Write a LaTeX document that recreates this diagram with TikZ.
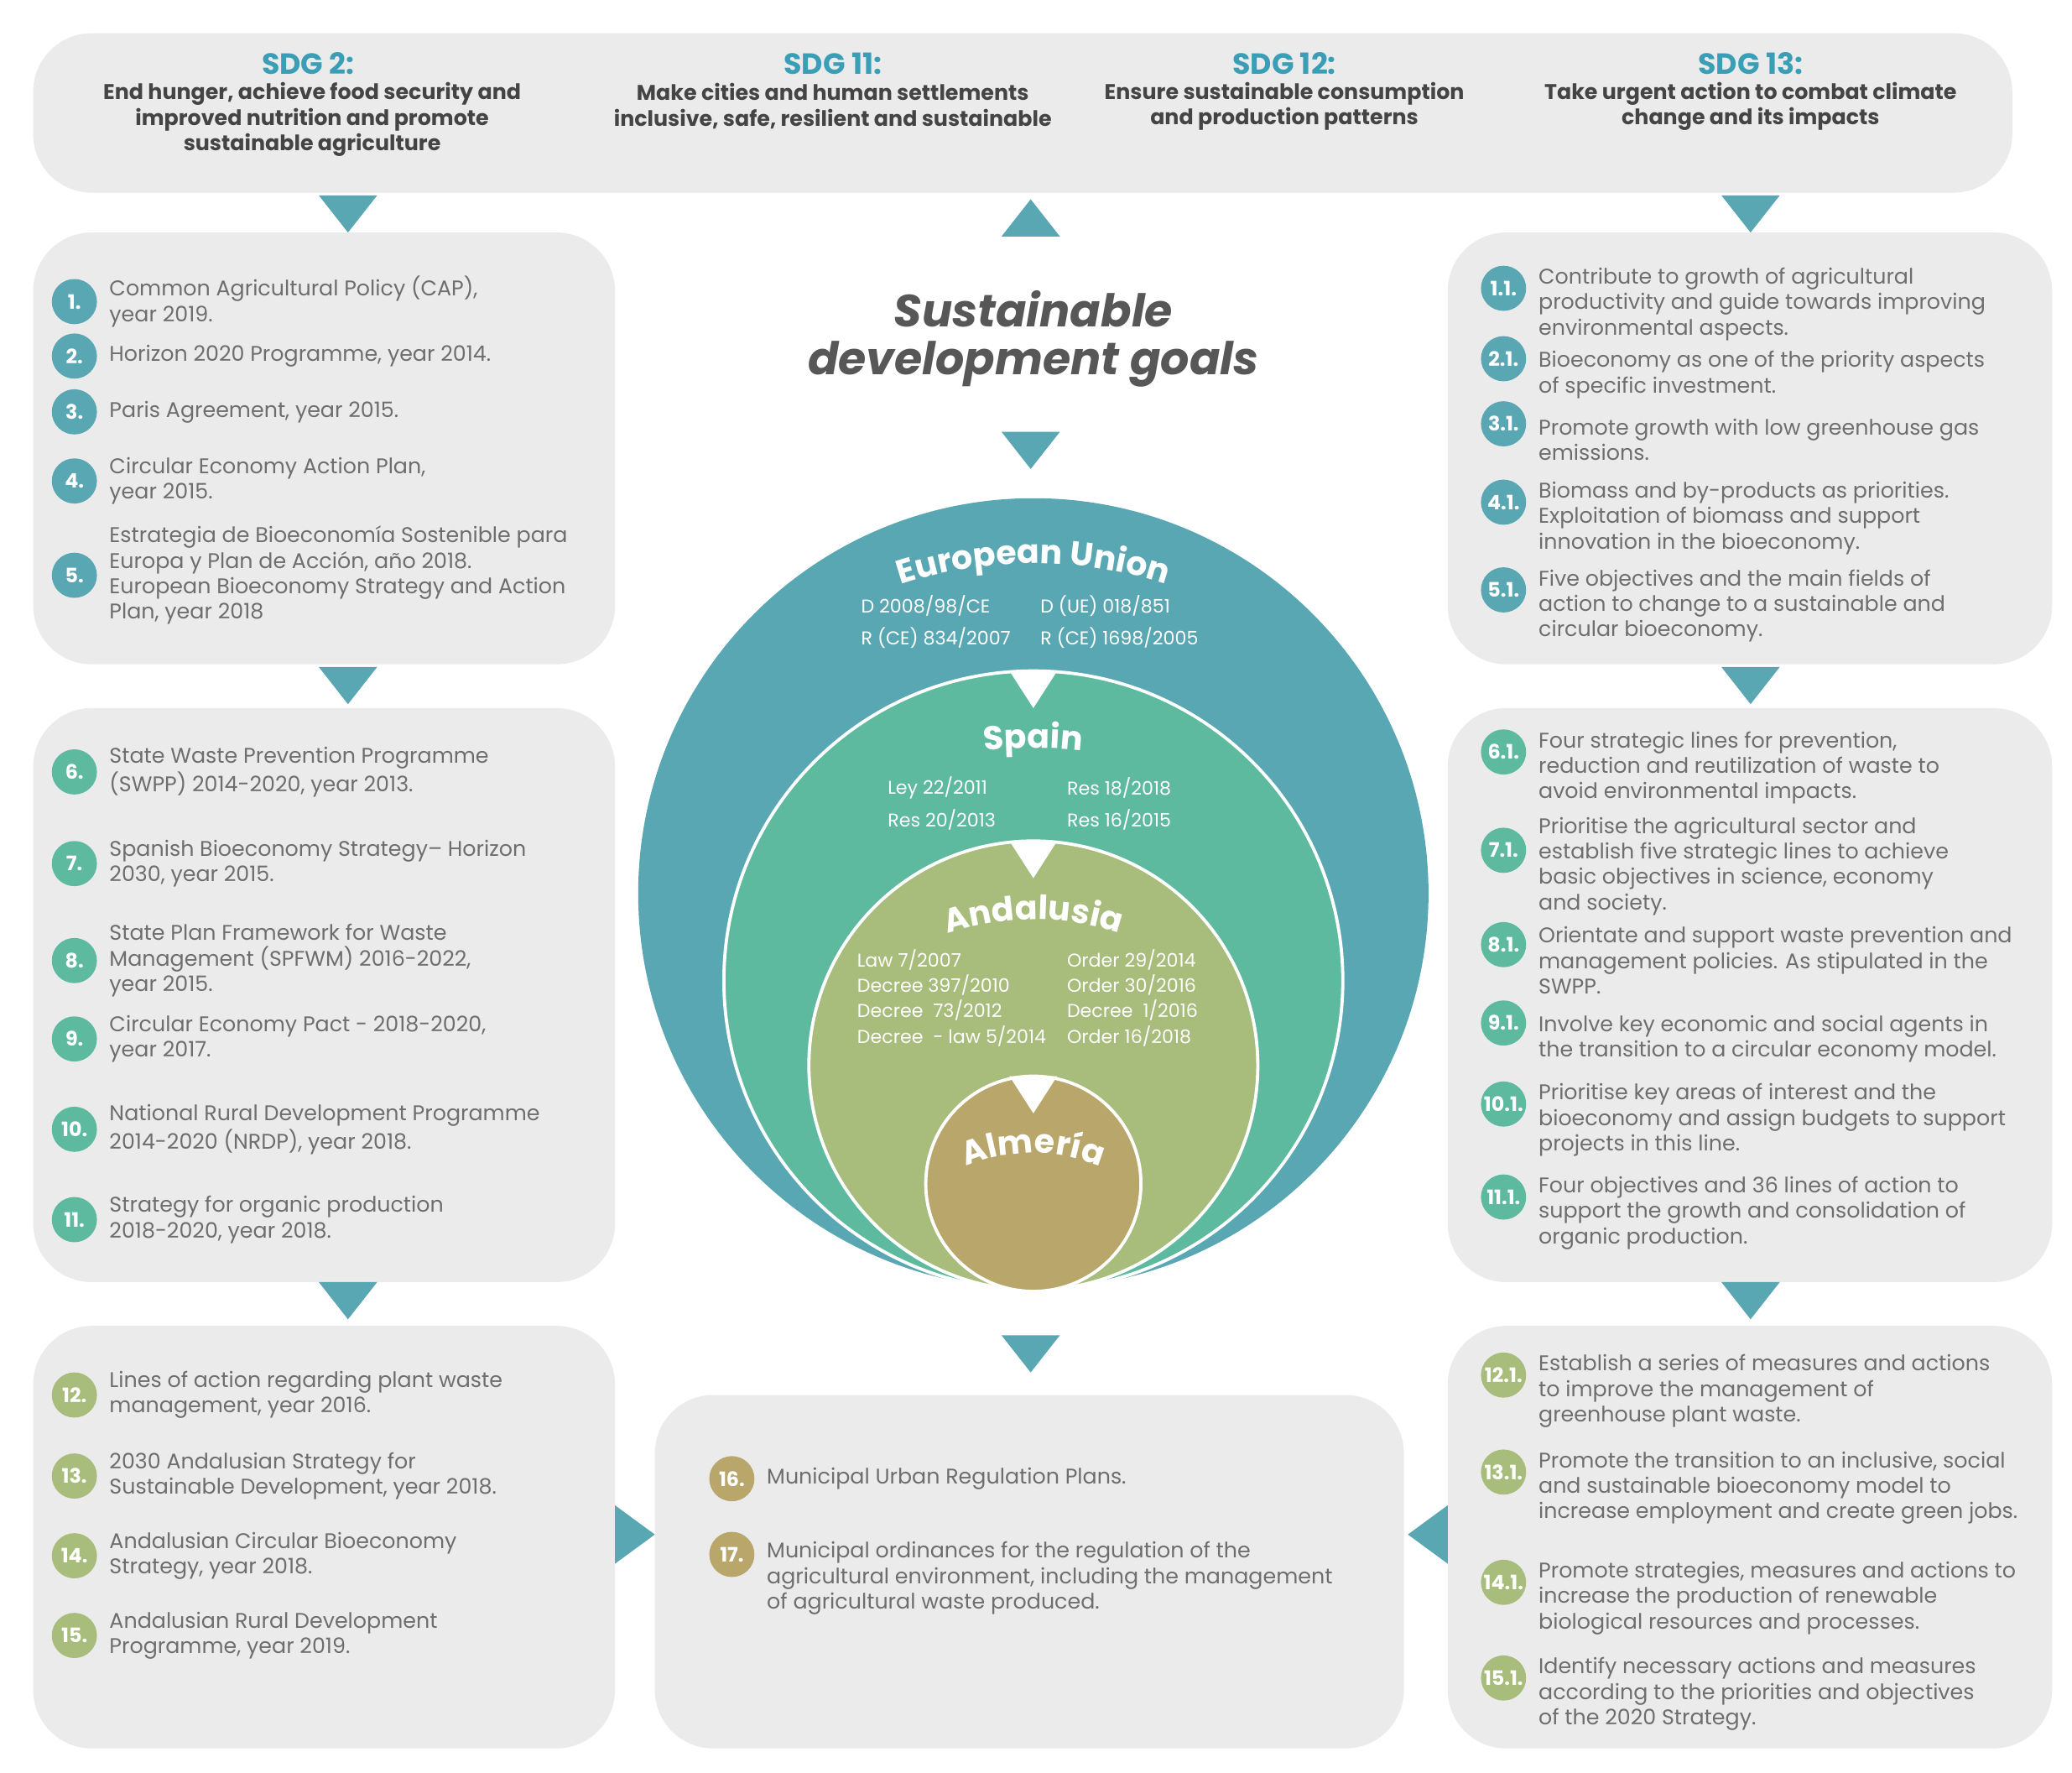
\documentclass[tikz,border=0pt]{standalone}
\usepackage{fontspec}
\setmainfont{Poppins}
\usetikzlibrary{decorations.text}
\definecolor{bg}{HTML}{EBEBEB}
\definecolor{cT}{HTML}{5AA7B4}
\definecolor{cG}{HTML}{5DBA9E}
\definecolor{cO}{HTML}{A8BC7C}
\definecolor{cB}{HTML}{B8A66B}
\definecolor{tx}{HTML}{6E6E6E}
\definecolor{hd}{HTML}{3A9FB6}
\definecolor{dk}{HTML}{444444}
\begin{document}
\begin{tikzpicture}[x=0.5pt,y=-0.5pt,
 box/.style={fill=bg,rounded corners=22pt,draw=none},
 tri/.style={fill=cT},
 num/.style={circle,minimum size=17pt,inner sep=0pt,text=white,font=\fontsize{7.5}{7.5}\selectfont\bfseries},
 itx/.style={anchor=west,align=left,text=tx,font=\fontsize{8}{9.6}\selectfont,inner sep=0pt},
 hd/.style={text=hd,font=\fontsize{11}{12}\selectfont\bfseries},
 hdd/.style={text=dk,align=center,font=\fontsize{8}{9.6}\selectfont\bfseries},
 wt/.style={text=white,anchor=west,inner sep=0pt,font=\fontsize{7}{9.6}\selectfont},
 ctext/.style={decorate,decoration={text along path,text align=center,text color=white,text={#1}}}]
\useasboundingbox (0,0) rectangle (1560,1334);
\fill[white] (0,0) rectangle (1560,1334);
% boxes
\fill[box] (25,25) rectangle (1515,145);
\fill[box] (25,175) rectangle (463,500);
\fill[box] (25,533) rectangle (463,965);
\fill[box] (25,998) rectangle (463,1316);
\fill[box] (1090,175) rectangle (1545,500);
\fill[box] (1090,533) rectangle (1545,965);
\fill[box] (1090,998) rectangle (1545,1316);
\fill[box] (493,1050) rectangle (1057,1316);
% headings
\node[hd] (h2) at (232,48) {SDG 2:};
\node[hdd] (d2) at (235,90) {End hunger, achieve food security and\\improved nutrition and promote\\sustainable agriculture};
\node[hd] (h11) at (627,48) {SDG 11:};
\node[hdd] (d11) at (627,80) {Make cities and human settlements\\inclusive, safe, resilient and sustainable};
\node[hd] (h12) at (967,48) {SDG 12:};
\node[hdd] (d12) at (967,80) {Ensure sustainable consumption\\and production patterns};
\node[hd] (h13) at (1318,48) {SDG 13:};
\node[hdd] (d13) at (1318,80) {Take urgent action to combat climate\\change and its impacts};
% triangles
\foreach \x/\y in {262/147,1318/147,262/502,1318/502,262/965,1318/965,776/325,776/1005}
  \fill[tri] (\x-22,\y) -- (\x+22,\y) -- (\x,\y+28) -- cycle;
\fill[tri] (754,178) -- (798,178) -- (776,150) -- cycle;
\fill[tri] (463,1133) -- (463,1177) -- (493,1155) -- cycle;
\fill[tri] (1090,1133) -- (1090,1177) -- (1060,1155) -- cycle;
% title
\node[text=dk!90,align=center,font=\fontsize{17}{18}\selectfont\bfseries\itshape] (title) at (778,255) {Sustainable\\development goals};
% circles
\fill[cT] (778,672.5) circle (297.5);
\draw[white,line width=1.2pt,fill=cG] (778,738) circle (233);
\draw[white,line width=1.2pt,fill=cO] (778,802) circle (169);
\draw[white,line width=1.2pt,fill=cB] (778,891) circle (81);
\foreach \y in {505,633,810} \fill[white] (760,\y) -- (796,\y) -- (778,\y+28) -- cycle;
\path[ctext={|\fontsize{12.5}{13}\selectfont\bfseries|European Union}] (778,742) ++(-115:318) arc[start angle=-115,end angle=-65,radius=318];
\path[ctext={|\fontsize{12.5}{13}\selectfont\bfseries|Spain}] (778,898) ++(-100:335) arc[start angle=-100,end angle=-80,radius=335];
\path[ctext={|\fontsize{12.5}{13}\selectfont\bfseries|Andalusia}] (778,895) ++(-118:203) arc[start angle=-118,end angle=-62,radius=203];
\path[ctext={|\fontsize{12.5}{13}\selectfont\bfseries|Almería}] (778,998) ++(-115:130) arc[start angle=-115,end angle=-65,radius=130];
\node[wt] (e1) at (648,456) {D 2008/98/CE};
\node[wt] (e2) at (783,456) {D (UE) 018/851};
\node[wt] (e3) at (648,480) {R (CE) 834/2007};
\node[wt] (e4) at (783,480) {R (CE) 1698/2005};
\node[wt] (s1) at (668,593) {Ley 22/2011};
\node[wt] (s2) at (803,593) {Res 18/2018};
\node[wt] (s3) at (668,617) {Res 20/2013};
\node[wt] (s4) at (803,617) {Res 16/2015};
\node[wt,align=left] (a1) at (645,751) {Law 7/2007\\Decree 397/2010\\Decree\ \ 73/2012\\Decree\ \ - law 5/2014};
\node[wt,align=left] (a2) at (803,751) {Order 29/2014\\Order 30/2016\\Decree\ \ 1/2016\\Order 16/2018};
% left items
\foreach \n/\c/\y/\t in {
 1/cT/227/{Common Agricultural Policy (CAP),\\year 2019.},
 2/cT/268/{Horizon 2020 Programme, year 2014.},
 3/cT/310/{Paris Agreement, year 2015.},
 4/cT/362/{Circular Economy Action Plan,\\year 2015.},
 5/cT/433/{Estrategia de Bioeconomía Sostenible para\\Europa y Plan de Acción, año 2018.\\European Bioeconomy Strategy and Action\\Plan, year 2018},
 6/cG/581/{State Waste Prevention Programme\\(SWPP) 2014-2020, year 2013.},
 7/cG/650/{Spanish Bioeconomy Strategy– Horizon\\2030, year 2015.},
 8/cG/723/{State Plan Framework for Waste\\Management (SPFWM) 2016-2022,\\year 2015.},
 9/cG/782/{Circular Economy Pact - 2018-2020,\\year 2017.},
 10/cG/850/{National Rural Development Programme\\2014-2020 (NRDP), year 2018.},
 11/cG/918/{Strategy for organic production\\2018-2020, year 2018.},
 12/cO/1050/{Lines of action regarding plant waste\\management, year 2016.},
 13/cO/1111/{2030 Andalusian Strategy for\\Sustainable Development, year 2018.},
 14/cO/1171/{Andalusian Circular Bioeconomy\\Strategy, year 2018.},
 15/cO/1231/{Andalusian Rural Development\\Programme, year 2019.}}{
 \node[num,fill=\c] (n\n) at (56,\y) {\n.};
 \node[itx] (t\n) at (82,\y) {\t};}
\node[num,fill=cB] (n16) at (551,1113) {16.};
\node[itx] (t16) at (577,1113) {Municipal Urban Regulation Plans.};
\node[num,fill=cB] (n17) at (551,1170) {17.};
\node[itx] (t17) at (577,1188) {Municipal ordinances for the regulation of the\\agricultural environment, including the management\\of agricultural waste produced.};
% right items
\foreach \n/\c/\y/\t in {
 1/cT/229/{Contribute to growth of agricultural\\productivity and guide towards improving\\environmental aspects.},
 2/cT/282/{Bioeconomy as one of the priority aspects\\of specific investment.},
 3/cT/331/{Promote growth with low greenhouse gas\\emissions.},
 4/cT/390/{Biomass and by-products as priorities.\\Exploitation of biomass and support\\innovation in the bioeconomy.},
 5/cT/456/{Five objectives and the main fields of\\action to change to a sustainable and\\circular bioeconomy.},
 6/cG/578/{Four strategic lines for prevention,\\reduction and reutilization of waste to\\avoid environmental impacts.},
 7/cG/652/{Prioritise the agricultural sector and\\establish five strategic lines to achieve\\basic objectives in science, economy\\and society.},
 8/cG/723/{Orientate and support waste prevention and\\management policies. As stipulated in the\\SWPP.},
 9/cG/782/{Involve key economic and social agents in\\the transition to a circular economy model.},
 10/cG/843/{Prioritise key areas of interest and the\\bioeconomy and assign budgets to support\\projects in this line.},
 11/cG/913/{Four objectives and 36 lines of action to\\support the growth and consolidation of\\organic production.},
 12/cO/1047/{Establish a series of measures and actions\\to improve the management of\\greenhouse plant waste.},
 13/cO/1120/{Promote the transition to an inclusive, social\\and sustainable bioeconomy model to\\increase employment and create green jobs.},
 14/cO/1203/{Promote strategies, measures and actions to\\increase the production of renewable\\biological resources and processes.},
 15/cO/1275/{Identify necessary actions and measures\\according to the priorities and objectives\\of the 2020 Strategy.}}{
 \node[num,fill=\c] (r\n) at (1132,\y-12) {\n.1.};
 \node[itx] (rt\n) at (1158,\y) {\t};}
\end{tikzpicture}
\end{document}
